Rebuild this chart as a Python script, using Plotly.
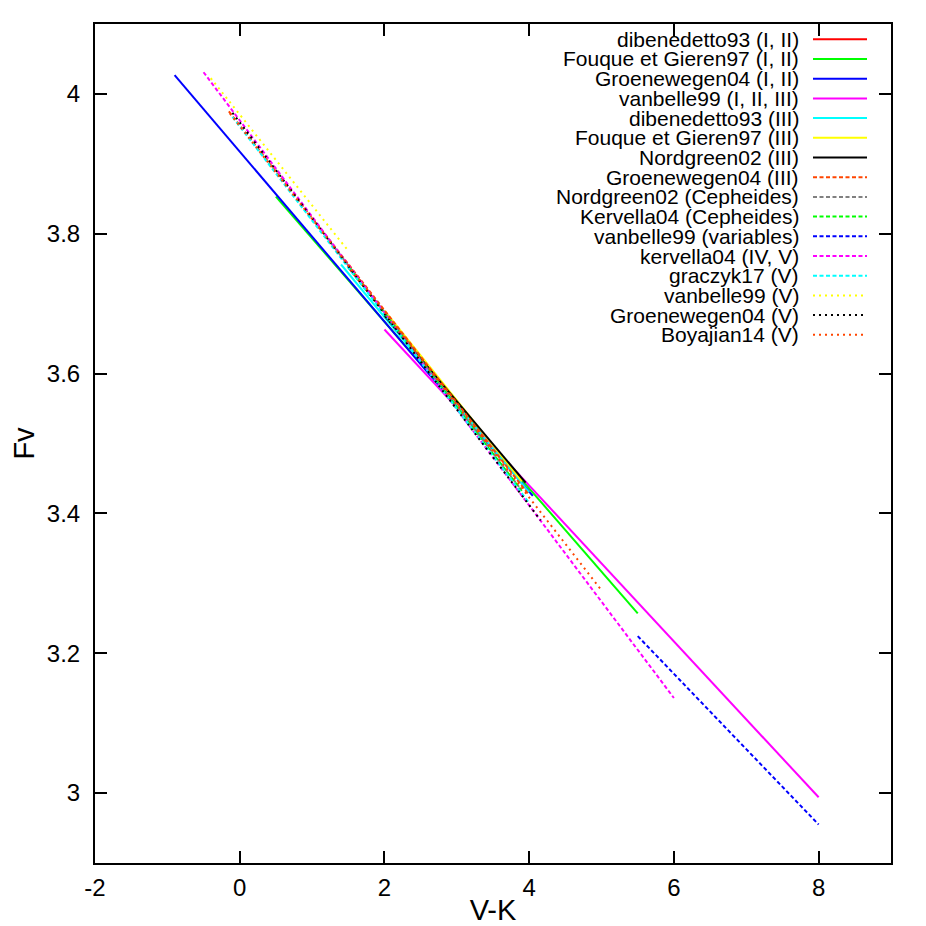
import plotly.graph_objects as go

# ---- data: each relation is a straight segment (V-K start/end, Fv start/end)
names = [
    "dibenedetto93 (I, II)", "Fouque et Gieren97 (I, II)", "Groenewegen04 (I, II)",
    "vanbelle99 (I, II, III)", "dibenedetto93 (III)", "Fouque et Gieren97 (III)",
    "Nordgreen02 (III)", "Groenewegen04 (III)", "Nordgreen02 (Cepheides)",
    "Kervella04 (Cepheides)", "vanbelle99 (variables)", "kervella04 (IV, V)",
    "graczyk17 (V)", "vanbelle99 (V)", "Groenewegen04 (V)", "Boyajian14 (V)",
]
vk_start = [1.5, 0.5, -0.9, 2.0, 1.4, 2.0, 2.0, -0.15, 1.2, 1.5, 5.5, -0.5, -0.1, -0.4, -0.1, -0.135]
vk_end = [4.0, 5.5, 4.05, 8.0, 4.0, 3.9, 3.95, 4.0, 3.86, 3.9, 8.0, 6.0, 4.0, 1.5, 4.16, 5.0]
fv_start = [3.752, 3.853, 4.027, 3.663, 3.756, 3.690, 3.683, 3.975, 3.795, 3.753, 3.2245, 4.031, 3.967, 4.0225, 3.973, 3.972]
fv_end = [3.430, 3.257, 3.425, 2.994, 3.430, 3.446, 3.444, 3.426, 3.438, 3.432, 2.955, 3.136, 3.415, 3.7755, 3.390, 3.290]

x_ticks = [-2, 0, 2, 4, 6, 8]
y_ticks = [3.0, 3.2, 3.4, 3.6, 3.8, 4.0]

# ---- styles
colors = ["#ff0000", "#00ff00", "#0000ff", "#ff00ff", "#00ffff", "#ffff00", "#000000",
          "#ff4500", "#808080", "#00ff00", "#0000ff", "#ff00ff", "#00ffff",
          "#ffff00", "#000000", "#ff4500"]
DASHED = "4px,2.5px"
DOTTED = "2px,4px"
dashes = ["solid"] * 7 + [DASHED] * 6 + [DOTTED] * 3

FONT = "Liberation Sans, Arial, Helvetica, sans-serif"

# page body adds an 8px offset, so the figure is 918px and margins compensate
W = H = 918
ML, MR, MT, MB = 87, 35, 16, 63

fig = go.Figure()
for i, n in enumerate(names):
    fig.add_trace(go.Scatter(
        x=[vk_start[i], vk_end[i]], y=[fv_start[i], fv_end[i]],
        mode="lines", name=n, showlegend=False,
        line=dict(color=colors[i], width=2, dash=dashes[i]),
        hoverinfo="skip",
    ))

# ---- gnuplot-style key: right-aligned text with sample line to its right
plot_w = W - ML - MR
plot_h = H - MT - MB
row0, drow = 39.3 - 8 - MT, 19.7      # pixel rows measured from plot top
def ky(i):
    return 1 - (row0 + drow * i) / plot_h
def kx(px):   # screen px -> paper
    return (px - 8 - ML) / plot_w

for i, n in enumerate(names):
    yy = ky(i)
    fig.add_annotation(xref="paper", yref="paper", x=kx(800), y=yy,
                       text=n, showarrow=False, xanchor="right", yanchor="middle",
                       borderpad=0,
                       font=dict(family=FONT, size=21, color="black"))
    fig.add_shape(type="line", xref="paper", yref="paper",
                  x0=kx(813), x1=kx(867), y0=yy, y1=yy,
                  line=dict(color=colors[i], width=2, dash=dashes[i]))

axis_common = dict(
    showline=True, linecolor="black", linewidth=2, mirror="ticks",
    ticks="inside", ticklen=12, tickwidth=2, tickcolor="black",
    showgrid=False, zeroline=False, automargin=False,
    tickfont=dict(family=FONT, size=24, color="black"),
)
fig.update_xaxes(range=[-2, 9], tickvals=x_ticks, ticktext=[str(v) for v in x_ticks],
                 title=dict(text="V-K", font=dict(family=FONT, size=29, color="black"), standoff=0),
                 ticklabelstandoff=2, **axis_common)
fig.update_yaxes(range=[2.9, 4.1], tickvals=y_ticks, ticktext=["3", "3.2", "3.4", "3.6", "3.8", "4"],
                 title=dict(text="Fv", font=dict(family=FONT, size=29, color="black"), standoff=12),
                 ticklabelstandoff=8, **axis_common)

fig.update_layout(
    width=W, height=H,
    margin=dict(l=ML, r=MR, t=MT, b=MB, autoexpand=False),
    paper_bgcolor="white", plot_bgcolor="white",
    showlegend=False,
)
fig.write_html("out.html")
